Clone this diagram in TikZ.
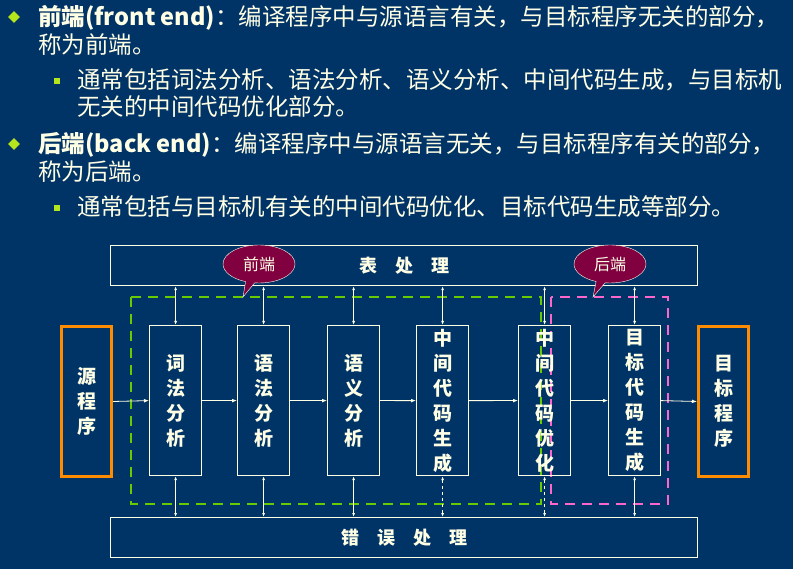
\documentclass[tikz,border=0pt]{standalone}
\usepackage{fontspec}
\setmainfont{Noto Sans CJK SC}
\usetikzlibrary{arrows.meta,shapes.geometric,shapes.callouts}
\definecolor{bg}{HTML}{003366}
\definecolor{fg}{HTML}{FFFFE6}
\definecolor{bul}{HTML}{B5E61D}
\definecolor{callc}{HTML}{800040}
\definecolor{grn}{HTML}{66CC00}
\definecolor{pnk}{HTML}{FF66CC}
\tikzset{
 txt/.style={anchor=west,text=fg,font=\fontsize{23.5}{25}\selectfont,inner sep=0},
 stage/.style={draw=fg,line width=1.2pt,minimum width=52pt,minimum height=150pt,text=fg,font=\fontsize{19}{25}\selectfont\bfseries,align=center,anchor=north west},
 io/.style={draw=orange!90!yellow,line width=3pt,minimum width=50pt,minimum height=150pt,text=fg,font=\fontsize{19}{25}\selectfont\bfseries,align=center,anchor=north west},
 bar/.style={draw=fg,line width=1.2pt,minimum width=587pt,minimum height=40pt,text=fg,font=\fontsize{18}{20}\selectfont\bfseries,anchor=north west},
 arr/.style={fg,line width=0.8pt,{Latex[length=4pt]}-{Latex[length=4pt]}},
 harr/.style={fg,line width=0.8pt,-{Latex[length=5pt]}},
 call/.style={ellipse callout,draw=fg!70,fill=callc,text=fg,minimum width=72pt,minimum height=38pt,font=\fontsize{16}{18}\selectfont,inner sep=1pt},
}
\begin{document}
\begin{tikzpicture}[x=1pt,y=-1pt]
\fill[bg] (0,0) rectangle (793,569);
\useasboundingbox (0,0) rectangle (793,569);
% bullets
\node[diamond,fill=bul,inner sep=3pt] (b1) at (14,17) {};
\node[txt] (t1) at (38,18) {\textbf{前端(front end)}：编译程序中与源语言有关，与目标程序无关的部分，};
\node[txt] (t1b) at (38,45) {称为前端。};
\node[fill=bul,inner sep=3pt] (b2) at (57,81) {};
\node[txt] (t2) at (77,80) {通常包括词法分析、语法分析、语义分析、中间代码生成，与目标机};
\node[txt] (t2b) at (77,107) {无关的中间代码优化部分。};
\node[diamond,fill=bul,inner sep=3pt] (b3) at (14,144) {};
\node[txt] (t3) at (38,145) {\textbf{后端(back end)}：编译程序中与源语言无关，与目标程序有关的部分，};
\node[txt] (t3b) at (38,172) {称为后端。};
\node[fill=bul,inner sep=3pt] (b4) at (57,208) {};
\node[txt] (t4) at (77,207) {通常包括与目标机有关的中间代码优化、目标代码生成等部分。};
% bars
\node[bar] (tab) at (110,245) {表\hspace{1em}处\hspace{1em}理};
\node[bar] (err) at (110,517) {错\hspace{1em}误\hspace{1em}处\hspace{1em}理};
% dashed regions
\draw[grn,line width=2.6pt,dash pattern=on 10pt off 7pt] (131,297) rectangle (541,504);
\draw[pnk,line width=2.6pt,dash pattern=on 10pt off 7pt] (551,297) rectangle (668,504);
% boxes
\node[io] (src) at (60,325) {源\\程\\序};
\node[stage] (s1) at (149,325) {词\\法\\分\\析};
\node[stage] (s2) at (237,325) {语\\法\\分\\析};
\node[stage] (s3) at (327,325) {语\\义\\分\\析};
\node[stage] (s4) at (416,325) {中\\间\\代\\码\\生\\成};
\node[stage] (s5) at (518,325) {中\\间\\代\\码\\优\\化};
\node[stage] (s6) at (608,325) {目\\标\\代\\码\\生\\成};
\node[io] (dst) at (697,325) {目\\标\\程\\序};
% horizontal
\draw[harr] (src.east) -- (s1.west);
\draw[harr] (s1.east) -- (s2.west);
\draw[harr] (s2.east) -- (s3.west);
\draw[harr] (s3.east) -- (s4.west);
\draw[harr] (s4.east) -- (s5.west);
\draw[harr] (s5.east) -- (s6.west);
\draw[harr] (s6.east) -- (dst.west);
% vertical
\foreach \s in {s1,s2,s3,s4,s5,s6}{\draw[arr] (tab.south -| \s.north) -- (\s.north);}
\foreach \s in {s1,s2,s3,s6}{\draw[arr] (\s.south) -- (err.north -| \s.south);}
\foreach \s in {s4,s5}{\draw[arr,dashed] (\s.south) -- (err.north -| \s.south);}
% callouts
\node[call,callout absolute pointer={(243,297)}] (c1) at (259,264) {前端};
\node[call,callout absolute pointer={(593,297)}] (c2) at (610,264) {后端};
\end{tikzpicture}
\end{document}
